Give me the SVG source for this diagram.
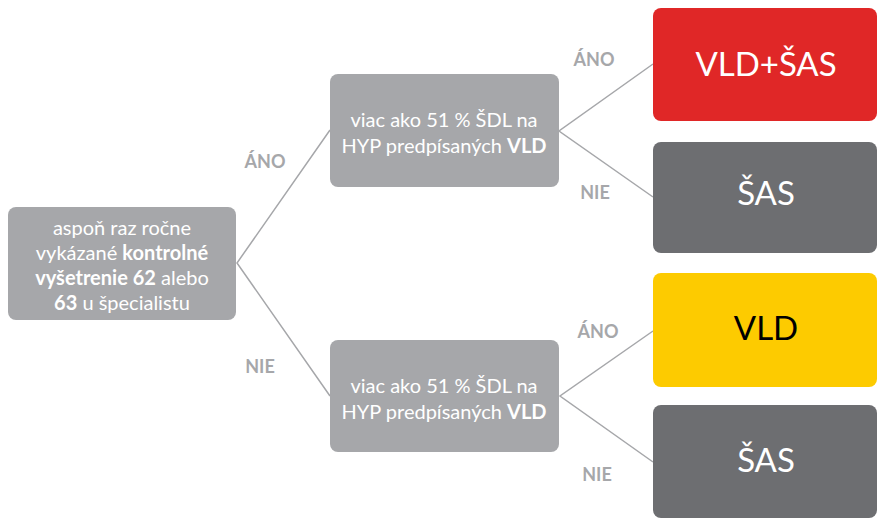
<svg xmlns="http://www.w3.org/2000/svg" width="877" height="518" viewBox="0 0 877 518">
<style>
.q{fill:#a6a7aa}
.t{font-family:Lato,"Open Sans",sans-serif;fill:#fff;text-anchor:middle}
.s{font-size:20px}
.b{font-weight:bold}
.big{font-size:33px}
.lbl{font-family:Lato,"Open Sans",sans-serif;font-weight:bold;font-size:18px;fill:#a6a7aa;text-anchor:middle}
.c{stroke:#a6a7aa;stroke-width:1.5;fill:none}
</style>
<rect width="877" height="518" fill="#fff"/>
<g id="connectors">
<polyline class="c" points="330,130 237,263 330,396"/>
<polyline class="c" points="653,64 559,131 653,197"/>
<polyline class="c" points="653,331 560,396 653,462"/>
</g>
<g id="root">
<rect class="q" x="8" y="207" width="228" height="113" rx="8"/>
<text class="t s" x="122" y="235">aspoň raz ročne</text>
<text class="t s" x="122" y="260">vykázané <tspan class="b">kontrolné</tspan></text>
<text class="t s" x="122" y="285"><tspan class="b">vyšetrenie 62</tspan> alebo</text>
<text class="t s" x="122" y="310"><tspan class="b">63</tspan> u špecialistu</text>
</g>
<g id="q1">
<rect class="q" x="330" y="74" width="229" height="113" rx="8"/>
<text class="t s" x="444" y="127">viac ako 51 % ŠDL na</text>
<text class="t s" x="444" y="153">HYP predpísaných <tspan class="b">VLD</tspan></text>
</g>
<g id="q2">
<rect class="q" x="330" y="340" width="229" height="112" rx="8"/>
<text class="t s" x="444" y="393">viac ako 51 % ŠDL na</text>
<text class="t s" x="444" y="419">HYP predpísaných <tspan class="b">VLD</tspan></text>
</g>
<g id="r1">
<rect x="653" y="8" width="224" height="113" rx="8" fill="#e02727"/>
<text class="t big" x="766" y="76">VLD+ŠAS</text>
</g>
<g id="r2">
<rect x="653" y="142" width="224" height="111" rx="8" fill="#6d6e71"/>
<text class="t big" x="766" y="205">ŠAS</text>
</g>
<g id="r3">
<rect x="653" y="273" width="224" height="114" rx="8" fill="#fdcb00"/>
<text class="t big" x="766" y="340" style="fill:#000">VLD</text>
</g>
<g id="r4">
<rect x="653" y="405" width="224" height="113" rx="8" fill="#6d6e71"/>
<text class="t big" x="766" y="472">ŠAS</text>
</g>
<g id="labels">
<text class="lbl" x="265" y="168">ÁNO</text>
<text class="lbl" x="260" y="373">NIE</text>
<text class="lbl" x="594" y="66">ÁNO</text>
<text class="lbl" x="595" y="199">NIE</text>
<text class="lbl" x="598" y="338">ÁNO</text>
<text class="lbl" x="597" y="481">NIE</text>
</g>
</svg>
